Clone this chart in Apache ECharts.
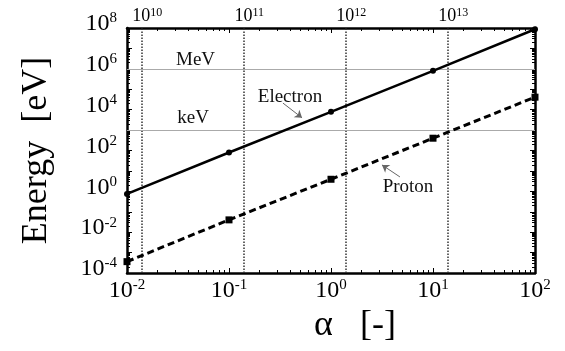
<!DOCTYPE html>
<html><head><meta charset="utf-8">
<script src="https://cdn.jsdelivr.net/npm/echarts@6/dist/echarts.min.js"></script>
<style>html,body{margin:0;padding:0;background:#fff}#c{width:565px;height:351px}</style>
</head><body><div id="c"></div>
<script>
// ---- data ----
const alpha = [0.01, 0.1, 1, 10, 100];
const electronEnergy = [0.75, 80, 7800, 8.0e5, 8.7e7];
const protonEnergy = [3.6e-4, 0.04, 3.9, 400, 4.1e4];
const xLabelExponents = [-2, -1, 0, 1, 2];
const yLabelExponents = [-4, -2, 0, 2, 4, 6, 8];
const densityAlpha = [0.0138, 0.138, 1.38, 13.8];
const densityExponents = ['10', '11', '12', '13'];
const refLevels = [1e6, 1e3];
const annotationTexts = ['MeV', 'keV', 'Electron', 'Proton'];
const annotationAt = [[0.047, 2.6e6], [0.0444, 3700], [0.396, 4.4e4], [5.69, 1.7]];
const arrowFrom = [[0.338, 2.1e4], [4.74, 5.08]];
const arrowTo = [[0.52, 3980], [3.16, 19.7]];

// ---- helpers ----
const FONT = '"Liberation Serif","Times New Roman",serif';
function decades(lo, hi) { const a = []; for (let e = lo; e <= hi; e++) a.push(Number('1e' + e)); return a; }
function minors(lo, hi) { const a = []; for (let e = lo; e < hi; e++) for (let m = 2; m <= 9; m++) a.push(Number(m + 'e' + e)); return a; }
function expOf(v) { return Math.round(Math.log10(v)); }
const richBig = {
  b: { fontFamily: FONT, fontSize: 24, color: '#000', lineHeight: 26, verticalAlign: 'middle' },
  s: { fontFamily: FONT, fontSize: 15, color: '#000', lineHeight: 26, verticalAlign: 'top' }
};
const richTop = {
  b: { fontFamily: FONT, fontSize: 18, color: '#000', lineHeight: 18, verticalAlign: 'middle' },
  s: { fontFamily: FONT, fontSize: 12, color: '#000', lineHeight: 18, verticalAlign: 'top' }
};
const X_MIN = 0.01, X_MAX = 100, Y_MIN = 1e-4, Y_MAX = 1e8;

function axisBase(extra) {
  return Object.assign({
    type: 'log', logBase: 10,
    splitLine: { show: false },
    axisLine: { show: false },
    axisLabel: { show: false },
    axisTick: { show: false }
  }, extra);
}
function xAx(pos, major, withLabels) {
  return axisBase({
    position: pos, min: X_MIN, max: X_MAX,
    axisLine: { show: major, lineStyle: { color: '#000', width: 2.5 } },
    axisTick: { show: true, inside: true, length: major ? 5 : 3, lineStyle: { color: '#000', width: 1 },
      customValues: major ? decades(-2, 2) : minors(-2, 2) },
    axisLabel: withLabels ? {
      show: true, margin: 5, fontFamily: FONT, fontSize: 24, color: '#000',
      customValues: xLabelExponents.map(e => Number('1e' + e)),
      formatter: v => '{b|10}{s|' + expOf(v) + '}', rich: richBig
    } : { show: false }
  });
}
function yAx(pos, major, withLabels) {
  return axisBase({
    position: pos, min: Y_MIN, max: Y_MAX,
    axisLine: { show: major, lineStyle: { color: '#000', width: 2.5 } },
    axisTick: { show: true, inside: true, length: major ? 5 : 3, lineStyle: { color: '#000', width: 1 },
      customValues: major ? decades(-4, 8) : minors(-4, 8) },
    axisLabel: withLabels ? {
      show: true, margin: 10, padding: [0, 0, 8, 0], fontFamily: FONT, fontSize: 24, color: '#000',
      customValues: yLabelExponents.map(e => Number('1e' + e)),
      formatter: v => '{b|10}{s|' + expOf(v) + '}', rich: richBig
    } : { show: false }
  });
}

const xAxes = [xAx('bottom', true, true), xAx('bottom', false, false), xAx('top', true, false), xAx('top', false, false)];
xAxes[0].name = 'α   [-]';
xAxes[0].nameLocation = 'middle';
xAxes[0].nameGap = 30;
xAxes[0].nameTextStyle = { fontFamily: FONT, fontSize: 36, color: '#000', padding: [0, 0, 0, 48] };
const yAxes = [yAx('left', true, true), yAx('left', false, false), yAx('right', true, false), yAx('right', false, false)];
yAxes[0].name = 'Energy  [eV]';
yAxes[0].nameLocation = 'middle';
yAxes[0].nameGap = 72;
yAxes[0].nameRotate = 90;
yAxes[0].nameTextStyle = { fontFamily: FONT, fontSize: 36, color: '#000' };

const chart = echarts.init(document.getElementById('c'), null, { renderer: 'canvas' });
chart.setOption({
  animation: false,
  backgroundColor: '#fff',
  textStyle: { fontFamily: FONT },
  grid: { left: 127, right: 30, top: 28, bottom: 78, containLabel: false, outerBoundsMode: 'none' },
  xAxis: xAxes,
  yAxis: yAxes,
  series: [
    {
      name: 'Electron', type: 'line', xAxisIndex: 0, yAxisIndex: 0, clip: false, silent: true,
      data: alpha.map((a, i) => [a, electronEnergy[i]]),
      symbol: 'circle', symbolSize: 6, z: 5,
      lineStyle: { color: '#000', width: 2.5 }, itemStyle: { color: '#000' },
      markLine: {
        silent: true, symbol: ['none', 'none'], animation: false,
        data: densityAlpha.map((v, i) => [
          { coord: [v, Y_MIN], lineStyle: { color: '#333', width: 1.5, type: 'dotted' },
            label: { show: true, position: 'end', distance: 3, padding: [0, 0, 0, 12],
              formatter: '{b|10}{s|' + densityExponents[i] + '}', rich: richTop } },
          { coord: [v, Y_MAX] }
        ]).concat(refLevels.map(v => [
          { coord: [X_MIN, v], lineStyle: { color: '#aaa', width: 1, type: 'solid' }, label: { show: false } },
          { coord: [X_MAX, v] }
        ]))
      }
    },
    {
      name: 'Proton', type: 'line', xAxisIndex: 0, yAxisIndex: 0, clip: false, silent: true,
      data: alpha.map((a, i) => [a, protonEnergy[i]]),
      symbol: 'rect', symbolSize: 7, z: 5,
      lineStyle: { color: '#000', width: 3, type: [7, 4] }, itemStyle: { color: '#000' }
    },
    {
      name: 'annotations', type: 'scatter', xAxisIndex: 0, yAxisIndex: 0, silent: true,
      symbol: 'circle', symbolSize: 1, itemStyle: { color: 'rgba(0,0,0,0)' },
      data: annotationTexts.map((t, i) => ({ name: t, value: annotationAt[i] })),
      label: { show: true, position: 'inside', formatter: '{b}', fontFamily: FONT, fontSize: 19,
        color: '#111', textBorderWidth: 0, opacity: 1 },
      markLine: {
        silent: true, symbol: ['none', 'arrow'], symbolSize: 7, animation: false,
        lineStyle: { color: '#666', width: 1, type: 'solid' },
        label: { show: false },
        data: arrowFrom.map((f, i) => [{ coord: f }, { coord: arrowTo[i] }])
      }
    }
  ]
});
</script>
</body></html>
